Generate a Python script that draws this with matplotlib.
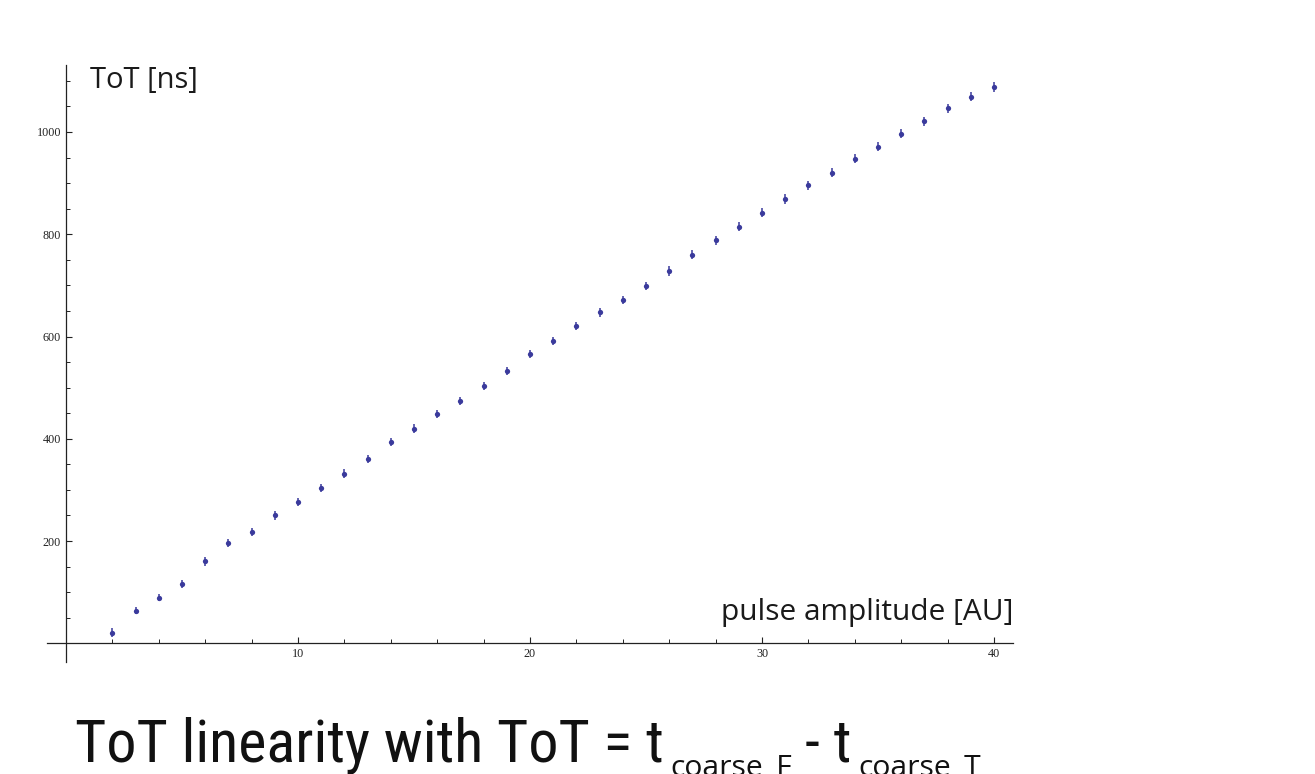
import matplotlib
matplotlib.use("Agg")
import matplotlib.pyplot as plt
from matplotlib.ticker import MultipleLocator
from matplotlib import font_manager

# ---- data ----
amplitude = list(range(2, 41))
tot_ns = [21, 64, 89, 116, 160, 196, 218, 250, 277, 304, 332, 360, 394, 420,
          448, 474, 503, 533, 565, 591, 621, 647, 672, 698, 728, 760, 788, 815,
          842, 869, 896, 920, 948, 971, 997, 1021, 1046, 1069, 1088]
tot_err = [8, 7, 7, 7, 8, 8, 8, 8, 8, 8, 8, 8, 8, 8,
           8, 8, 8, 8, 8, 8, 8, 8, 8, 8, 9, 9, 9, 9,
           9, 9, 9, 9, 9, 9, 9, 9, 9, 9, 9]
x_major = [10, 20, 30, 40]
y_major = [200, 400, 600, 800, 1000]
xlabel = "pulse amplitude [AU]"
ylabel = "ToT [ns]"
title_main = "ToT linearity with ToT = t"
sub1 = "coarse_F"
mid = "- t"
sub2 = "coarse_T"

W, H = 1315, 774
fig = plt.figure(figsize=(W / 100, H / 100), dpi=100)
fig.patch.set_facecolor("white")

ax = fig.add_axes([47 / W, 1 - 662 / H, (1013 - 47) / W, (662 - 65) / H])
ax.set_xlim(-0.82, 40.82)
ax.set_ylim(-36.6, 1131)

col = "#3a3a9c"
ax.errorbar(amplitude, tot_ns, yerr=tot_err, fmt="o", color=col,
            markersize=3.8, elinewidth=1.1, capsize=3.5, capthick=1.3,
            markeredgewidth=0, zorder=3)

for s in ["top", "right"]:
    ax.spines[s].set_visible(False)
ax.spines["left"].set_position(("data", 0))
ax.spines["bottom"].set_position(("data", 0))
for s in ["left", "bottom"]:
    ax.spines[s].set_color("#222222")
    ax.spines[s].set_linewidth(0.9)

ax.set_xticks(x_major)
ax.set_yticks(y_major)
ax.xaxis.set_minor_locator(MultipleLocator(2))
ax.yaxis.set_minor_locator(MultipleLocator(50))
ax.tick_params(which="major", direction="in", length=4.5, width=0.8,
               color="#222222", labelsize=8.7, pad=3.5)
ax.tick_params(which="minor", direction="in", length=2.8, width=0.7,
               color="#222222")
for lab in ax.get_xticklabels() + ax.get_yticklabels():
    lab.set_fontfamily("Liberation Serif")
    lab.set_color("#222222")

# choose a condensed sans face for the title if one is installed
entries = [(f.name, str(f.stretch)) for f in font_manager.fontManager.ttflist]
cands = [("Roboto Condensed", None), ("Liberation Sans Narrow", None),
         ("Open Sans Condensed", None), ("Noto Sans Display", "condensed"),
         ("Noto Sans", "condensed"), ("DejaVu Sans", "condensed"),
         ("Open Sans", "condensed")]
tfam, tstretch = ["Open Sans", "DejaVu Sans"], "normal"
for name, st in cands:
    ok = any(n == name and (st is None or s == st or s == "semi-condensed")
             for n, s in entries)
    if ok:
        tfam = [name, "DejaVu Sans"]
        tstretch = st if st else "normal"
        break

sans = ["Open Sans", "DejaVu Sans"]
fig.text(90 / W, 1 - 88 / H, ylabel, fontsize=21, family=sans,
         color="#1a1a1a", ha="left", va="baseline")
fig.text(1013 / W, 1 - 620 / H, xlabel, fontsize=21.5, family=sans,
         color="#1a1a1a", ha="right", va="baseline")

renderer = fig.canvas.get_renderer()


def fit_text(x_px, y_px, s, size, target_w, fam, stretch="normal"):
    t = fig.text(x_px / W, 1 - y_px / H, s, fontsize=size, family=fam,
                 fontstretch=stretch, color="#111111", ha="left",
                 va="baseline")
    w = t.get_window_extent(renderer).width
    if target_w is not None and w > 0:
        t.set_fontsize(size * target_w / w)
    return t


t1 = fit_text(75, 762, title_main, 44, 590, tfam, tstretch)
e1 = t1.get_window_extent(renderer)
t2 = fit_text(e1.x1 + 7, 776, sub1, 22, 122, sans)
e2 = t2.get_window_extent(renderer)
t3 = fit_text(e2.x1 + 12, 762, mid, t1.get_fontsize(), None, tfam, tstretch)
e3 = t3.get_window_extent(renderer)
t4 = fit_text(e3.x1 + 7, 776, sub2, t2.get_fontsize(), None, sans)

fig.savefig("out.png", dpi=100, facecolor="white")
